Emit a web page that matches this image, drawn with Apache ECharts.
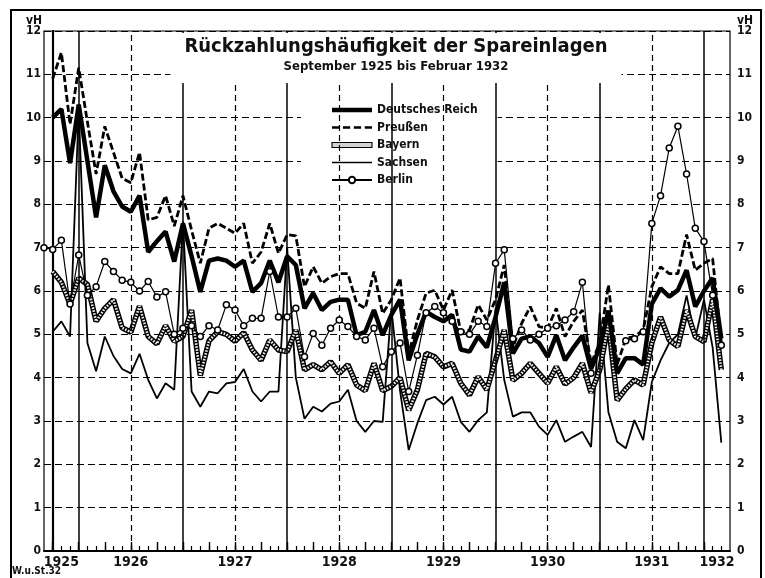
<!DOCTYPE html>
<html>
<head>
<meta charset="utf-8">
<title>Rückzahlungshäufigkeit der Spareinlagen</title>
<script src="https://cdn.jsdelivr.net/npm/echarts@6/dist/echarts.min.js"></script>
<style>
  html, body { margin: 0; padding: 0; background: #fff; }
  #chart { width: 765px; height: 578px; }
</style>
</head>
<body>
<div id="chart"></div>
<script>
// Monatswerte in vH, September 1925 bis Februar 1932 (78 Monate, Index 0 = Sep 1925)
const reich = [
  10.0, 10.2, 8.95, 10.3, 9.0, 7.7, 8.9, 8.3, 7.95, 7.83, 8.2, 6.9,
  7.15, 7.37, 6.68, 7.56, 6.8, 5.98, 6.7, 6.75, 6.7, 6.56, 6.7, 5.98,
  6.18, 6.7, 6.2, 6.8, 6.6, 5.6, 5.95, 5.56, 5.75, 5.8, 5.8, 4.98,
  5.06, 5.56, 4.98, 5.45, 5.8, 4.4, 5.0, 5.52, 5.4, 5.3, 5.45, 4.65,
  4.6, 4.95, 4.7, 5.4, 6.2, 4.56, 4.9, 4.95, 4.8, 4.48, 4.98, 4.4,
  4.7, 4.97, 4.2, 4.7, 5.55, 4.1, 4.45, 4.45, 4.3, 5.7, 6.06, 5.87,
  6.02, 6.48, 5.64, 6.0, 6.3, 4.9
];
const preussen = [
  10.9, 11.5, 9.85, 11.15, 9.9, 8.7, 9.8, 9.2, 8.6, 8.5, 9.2, 7.64,
  7.7, 8.2, 7.5, 8.2, 7.4, 6.64, 7.45, 7.56, 7.45, 7.33, 7.56, 6.64,
  6.9, 7.56, 6.87, 7.3, 7.27, 6.1, 6.56, 6.18, 6.33, 6.4, 6.4, 5.72,
  5.6, 6.45, 5.48, 5.8, 6.3, 4.55, 5.33, 5.95, 6.02, 5.56, 6.02, 5.06,
  5.1, 5.68, 5.33, 5.8, 6.6, 4.7, 5.25, 5.64, 5.18, 5.14, 5.6, 4.95,
  5.3, 5.56, 4.33, 4.8, 6.14, 4.3, 4.9, 4.95, 5.1, 6.1, 6.56, 6.4,
  6.4, 7.3, 6.48, 6.64, 6.75, 4.8
];
const bayern = [
  6.45, 6.2, 5.7, 6.3, 6.15, 5.3, 5.6, 5.8, 5.15, 5.05, 5.65, 4.95,
  4.78, 5.2, 4.84, 4.95, 5.56, 4.05, 4.85, 5.06, 5.0, 4.84, 5.04, 4.64,
  4.4, 4.87, 4.64, 4.6, 5.1, 4.18, 4.3, 4.18, 4.37, 4.1, 4.3, 3.83,
  3.7, 4.33, 3.7, 3.8, 4.0, 3.25, 3.72, 4.56, 4.48, 4.25, 4.33, 3.87,
  3.6, 4.02, 3.72, 4.4, 5.1, 3.94, 4.1, 4.33, 4.1, 3.87, 4.25, 3.85,
  4.0, 4.33, 3.65, 4.18, 5.25, 3.48, 3.74, 3.95, 3.83, 4.8, 5.4, 4.87,
  4.72, 5.56, 4.95, 4.83, 5.8, 4.18
];
const sachsen = [
  5.06, 5.3, 4.95, 10.2, 4.8, 4.15, 4.95, 4.5, 4.2, 4.1, 4.55, 3.95,
  3.52, 3.87, 3.72, 7.6, 3.68, 3.33, 3.68, 3.64, 3.87, 3.9, 4.2, 3.68,
  3.45, 3.68, 3.68, 7.0, 4.0, 3.05, 3.33, 3.22, 3.4, 3.45, 3.72, 3.0,
  2.75, 3.0, 2.98, 5.6, 3.7, 2.33, 2.95, 3.48, 3.56, 3.38, 3.56, 2.98,
  2.75, 3.02, 3.2, 5.6, 3.95, 3.1, 3.2, 3.2, 2.87, 2.68, 3.02, 2.52,
  2.64, 2.75, 2.4, 5.5, 3.2, 2.52, 2.37, 3.02, 2.56, 3.9, 4.4, 4.8,
  5.0, 5.9, 4.9, 5.8, 4.7, 2.5
];
// Berlin beginnt einen Monat früher (August 1925), null = kein Wert
const berlin = [
  7.0,
  6.96, 7.17, 5.7, 6.83, 5.9, 6.1, 6.68, 6.45, 6.25, 6.2, 6.0, 6.22,
  5.86, 5.98, 5.0, 5.14, 5.2, 4.95, 5.2, 5.1, 5.68, 5.56, 5.2, 5.37,
  5.37, 6.45, 5.4, 5.4, 5.6, 4.48, 5.02, 4.75, 5.14, 5.33, 5.18, 4.95,
  4.87, 5.14, 4.25, 4.6, 4.8, 3.68, 4.52, 5.5, 5.64, 5.5, 5.3, 5.06,
  5.0, 5.3, 5.18, 6.64, 6.95, 4.9, 5.1, 4.87, 5.0, 5.14, 5.2, 5.33,
  5.52, 6.2, 4.1, null, null, null, 4.85, 4.9, 5.06, 7.56, 8.2, 9.3,
  9.8, 8.7, 7.45, 7.14, 5.9, 4.75
];

const years = ['1925', '1926', '1927', '1928', '1929', '1930', '1931', '1932'];
const firstYear = 1925;
const monthCount = reich.length;

// x-Achse in Monaten: 0 = Sep 1925, Dezember eines Jahres = 3 + 12*k
const xMin = -1;
const xMax = monthCount;
const decemberOf = (y) => 3 + 12 * (y - firstYear);

const yearEnds = years.slice(0, -1).map((y, k) => decemberOf(firstYear + k));
const midYears = years.slice(1, -1).map((y, k) => decemberOf(firstYear + k) + 6);

// Jahreszahl mittig im sichtbaren Abschnitt des Jahres
const yearLabelPos = years.map((y, k) => {
  const from = Math.max(xMin, decemberOf(firstYear + k - 1));
  const to = Math.min(xMax, decemberOf(firstYear + k));
  return (from + to) / 2;
});
const labelAt = {};
yearLabelPos.forEach((p, k) => { labelAt[p] = years[k]; });

const monthTicks = [];
for (let i = 0; i < monthCount; i++) monthTicks.push(i);
const quarterTicks = monthTicks.filter(i => i % 3 === 0);

const toPoints = (vals, start) => vals.map((v, k) => [start + k, v]);

const FONT = '"DejaVu Sans Condensed", "DejaVu Sans", sans-serif';
const INK = '#111';

// Legendensymbole (Breite 40)
const ICON_REICH = 'path://M0,0H40V4.6H0Z';
const ICON_PREUSSEN = 'path://M0,0H7V2.6H0Z M10.5,0H17.5V2.6H10.5Z M21,0H28V2.6H21Z M31.5,0H38.5V2.6H31.5Z';
const ICON_BAYERN = 'path://M0,0H40V5H0Z';
const ICON_SACHSEN = 'path://M0,0H40V1.6H0Z';

const chart = echarts.init(document.getElementById('chart'));

chart.setOption({
  animation: false,
  backgroundColor: '#fff',
  title: [
    {
      text: 'Rückzahlungshäufigkeit der Spareinlagen',
      subtext: 'September 1925 bis Februar 1932',
      left: 382,
      textAlign: 'center',
      top: 33,
      itemGap: 3,
      padding: [4, 14, 10, 14],
      backgroundColor: '#fff',
      textStyle: { fontFamily: FONT, fontSize: 20, fontWeight: 'bold', color: INK },
      subtextStyle: { fontFamily: FONT, fontSize: 13, fontWeight: 'bold', color: INK }
    },
    {
      text: 'W.u.St.32',
      left: 12,
      top: 566,
      padding: 0,
      textStyle: { fontFamily: FONT, fontSize: 10, fontWeight: 'bold', color: INK }
    }
  ],
  legend: {
    orient: 'vertical',
    left: 301,
    top: 86,
    padding: [18, 20, 12, 30],
    backgroundColor: '#fff',
    itemWidth: 40,
    itemHeight: 8,
    itemGap: 5.5,
    selectedMode: false,
    textStyle: { fontFamily: FONT, fontSize: 12, fontWeight: 'bold', color: INK },
    data: [
      { name: 'Deutsches Reich', icon: ICON_REICH, itemStyle: { color: '#000' } },
      { name: 'Preußen', icon: ICON_PREUSSEN, itemStyle: { color: '#000' } },
      { name: 'Bayern', icon: ICON_BAYERN, itemStyle: { color: '#d2d2d2', borderColor: '#000', borderWidth: 1.1 } },
      { name: 'Sachsen', icon: ICON_SACHSEN, itemStyle: { color: '#000' } },
      'Berlin'
    ]
  },
  grid: {
    left: 44, right: 35, top: 31, bottom: 27,
    show: true, borderColor: '#000', borderWidth: 1.2,
    backgroundColor: 'transparent'
  },
  xAxis: [
    {
      type: 'value',
      min: xMin,
      max: xMax,
      position: 'bottom',
      axisLine: { show: true, onZero: false, lineStyle: { color: '#000', width: 2 } },
      axisTick: { show: true, inside: true, length: 5, customValues: monthTicks, lineStyle: { color: '#000', width: 1.2 } },
      axisLabel: {
        show: true,
        customValues: yearLabelPos,
        formatter: (v) => labelAt[v] || '',
        margin: 4,
        fontFamily: FONT, fontSize: 14, fontWeight: 'bold', color: INK
      },
      splitLine: { show: false }
    },
    {
      type: 'value',
      min: xMin,
      max: xMax,
      position: 'bottom',
      axisLine: { show: false },
      axisTick: { show: true, inside: true, length: 9, customValues: quarterTicks, lineStyle: { color: '#000', width: 1.4 } },
      axisLabel: { show: false },
      splitLine: { show: false }
    }
  ],
  yAxis: [
    {
      type: 'value',
      min: 0, max: 12, interval: 1,
      position: 'left',
      axisLine: { show: true, lineStyle: { color: '#000', width: 2.2 } },
      axisTick: { show: false },
      axisLabel: { margin: 3, fontFamily: FONT, fontSize: 12, fontWeight: 'bold', color: INK },
      splitLine: { show: true, lineStyle: { color: '#000', width: 1, type: [7, 4] } }
    },
    {
      type: 'value',
      min: 0, max: 12, interval: 1,
      position: 'right',
      axisLine: { show: true, lineStyle: { color: '#000', width: 1.5 } },
      axisTick: { show: false },
      axisLabel: { margin: 7, fontFamily: FONT, fontSize: 12, fontWeight: 'bold', color: INK },
      splitLine: { show: false }
    }
  ],
  series: [
    // Raster: Jahresgrenzen durchgezogen, Jahresmitte gestrichelt
    {
      name: 'raster',
      type: 'line',
      data: toPoints(reich, 0),
      symbol: 'none',
      silent: true,
      lineStyle: { opacity: 0 },
      z: 1,
      markLine: {
        silent: true,
        symbol: 'none',
        label: { show: false },
        data: [
          ...yearEnds.map(x => ({ xAxis: x, lineStyle: { type: 'solid', width: 1.5, color: '#000' } })),
          ...midYears.map(x => ({ xAxis: x, lineStyle: { type: [6, 4], width: 1.2, color: '#000' } }))
        ]
      }
    },
    {
      name: 'Sachsen',
      type: 'line',
      data: toPoints(sachsen, 0),
      symbol: 'none',
      color: '#000',
      lineStyle: { color: '#000', width: 1.8 },
      z: 2
    },
    {
      name: 'Bayern',
      type: 'line',
      data: toPoints(bayern, 0),
      symbol: 'none',
      color: '#000',
      lineStyle: { color: '#000', width: 5.5 },
      z: 3
    },
    {
      name: 'Bayern-Schraffur',
      type: 'line',
      data: toPoints(bayern, 0),
      symbol: 'none',
      silent: true,
      lineStyle: { color: '#f0f0f0', width: 2.6, type: [1.6, 1.4] },
      z: 3
    },
    {
      name: 'Preußen',
      type: 'line',
      data: toPoints(preussen, 0),
      symbol: 'none',
      color: '#000',
      lineStyle: { color: '#000', width: 2.8, type: [7, 3] },
      z: 4
    },
    {
      name: 'Deutsches Reich',
      type: 'line',
      data: toPoints(reich, 0),
      symbol: 'none',
      color: '#000',
      lineStyle: { color: '#000', width: 4.5 },
      z: 5
    },
    {
      name: 'Berlin',
      type: 'line',
      data: toPoints(berlin, -1),
      symbol: 'circle',
      symbolSize: 6,
      showSymbol: true,
      connectNulls: false,
      itemStyle: { color: '#fff', borderColor: '#000', borderWidth: 1.5 },
      lineStyle: { color: '#000', width: 1.2 },
      z: 6
    }
  ],
  graphic: [
    {
      type: 'rect',
      silent: true,
      shape: { x: 11, y: 10, width: 750, height: 600 },
      style: { fill: 'none', stroke: '#000', lineWidth: 2 }
    },
    {
      type: 'text',
      silent: true,
      x: 42, y: 21,
      style: { text: 'vH', fontFamily: FONT, fontSize: 12, fontWeight: 'bold', fill: INK, align: 'right', verticalAlign: 'middle' }
    },
    {
      type: 'text',
      silent: true,
      x: 737, y: 21,
      style: { text: 'vH', fontFamily: FONT, fontSize: 12, fontWeight: 'bold', fill: INK, align: 'left', verticalAlign: 'middle' }
    }
  ]
});
</script>
</body>
</html>
